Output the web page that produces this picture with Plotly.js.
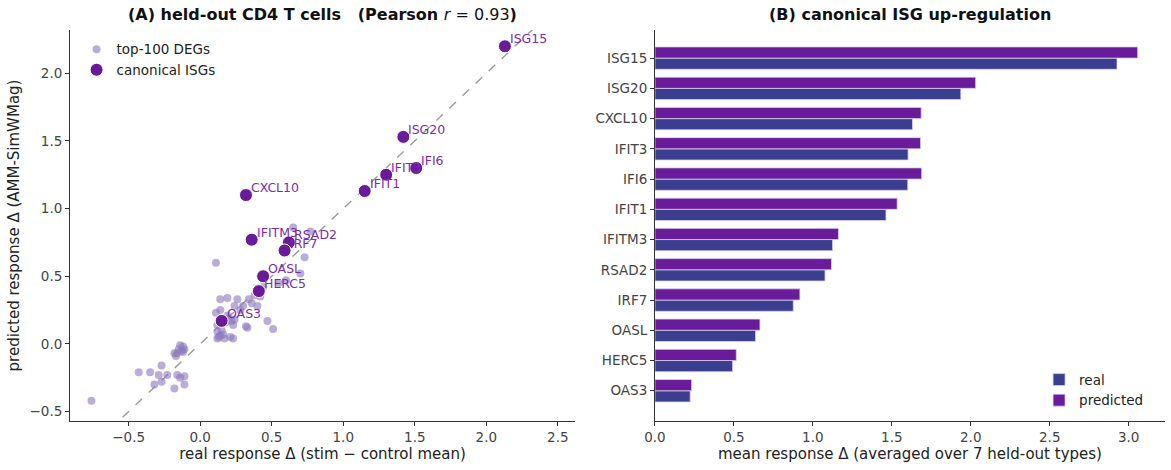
<!DOCTYPE html>
<html>
<head>
<meta charset="utf-8">
<script src="https://cdn.plot.ly/plotly-3.0.1.min.js"></script>
<style>body{margin:0;background:#fff}#chart{width:1171px;height:470px}</style>
</head>
<body>
<div id="chart"></div>
<script>
// ---- Panel A: top-100 DEGs (real vs predicted response delta) ----
const degReal = [-0.76,-0.43,-0.35,-0.29,-0.23,-0.27,-0.32,-0.27,-0.18,-0.16,-0.11,-0.11,-0.14,-0.18,-0.16,-0.14,-0.12,-0.11,-0.13,-0.15,-0.17,-0.12,
  0.11,0.14,0.19,0.26,0.34,0.30,0.24,0.40,0.42,0.11,0.14,0.19,0.22,0.23,0.32,0.33,0.47,0.51,0.12,0.12,0.15,0.12,0.17,0.21,0.23,0.14,0.16,0.18,
  0.65,0.77,0.73,0.70,0.24,0.55,0.60,0.28,0.36,0.20,0.13,0.44,0.38];
const degPred = [-0.42,-0.21,-0.21,-0.23,-0.23,-0.16,-0.30,-0.28,-0.33,-0.23,-0.24,-0.30,-0.25,-0.07,-0.07,-0.01,-0.02,-0.04,-0.05,-0.04,-0.09,-0.06,
  0.60,0.33,0.34,0.33,0.33,0.28,0.28,0.28,0.35,0.23,0.25,0.21,0.17,0.14,0.13,0.12,0.17,0.11,0.14,0.09,0.10,0.04,0.04,0.05,0.04,0.06,0.07,0.16,
  0.86,0.83,0.64,0.52,0.18,0.45,0.47,0.25,0.30,0.19,0.05,0.42,0.36];

// ---- Panel A: canonical ISGs ----
const isgNames = ["ISG15","ISG20","IFIT3","IFI6","IFIT1","CXCL10","IFITM3","RSAD2","IRF7","OASL","HERC5","OAS3"];
const isgReal  = [2.13,1.42,1.30,1.51,1.15,0.32,0.36,0.62,0.59,0.44,0.41,0.15];
const isgPred  = [2.20,1.53,1.25,1.30,1.13,1.10,0.77,0.75,0.69,0.50,0.39,0.17];

// ---- Panel B: mean response (averaged over 7 held-out types) ----
const barGenes     = ["ISG15","ISG20","CXCL10","IFIT3","IFI6","IFIT1","IFITM3","RSAD2","IRF7","OASL","HERC5","OAS3"];
const barReal      = [2.926,1.937,1.631,1.603,1.601,1.463,1.125,1.077,0.876,0.637,0.492,0.223];
const barPredicted = [3.057,2.031,1.686,1.682,1.689,1.534,1.162,1.118,0.918,0.665,0.515,0.232];

const identity = [-1.0, 2.6];

const FONT = "DejaVu Sans, Noto Sans, sans-serif";
const purple = "#6a1b9a";
const labelPurple = "#7b2cb0";
const realBlue = "#3b3d8f";

const traces = [
  {x: identity, y: identity, mode: "lines", type: "scatter", xaxis: "x", yaxis: "y",
   line: {color: "#9a9a9a", width: 1.4, dash: "dash"}, showlegend: false, hoverinfo: "skip"},
  {x: degReal, y: degPred, mode: "markers", type: "scatter", name: "top-100 DEGs", xaxis: "x", yaxis: "y",
   marker: {color: "rgba(140,120,190,0.6)", size: 8, line: {width: 0}}, legend: "legend"},
  {x: isgReal, y: isgPred, mode: "markers", type: "scatter", name: "canonical ISGs", xaxis: "x", yaxis: "y",
   marker: {color: purple, size: 13, line: {color: "#ffffff", width: 1}}, legend: "legend"},
  {y: barGenes, x: barReal, type: "bar", orientation: "h", name: "real", xaxis: "x2", yaxis: "y2",
   marker: {color: realBlue, line: {color: "#d8d0ee", width: 0.8}}, legend: "legend2"},
  {y: barGenes, x: barPredicted, type: "bar", orientation: "h", name: "predicted", xaxis: "x2", yaxis: "y2",
   marker: {color: purple, line: {color: "#d8d0ee", width: 0.8}}, legend: "legend2"}
];

const labelAnns = isgNames.map((g, i) => ({
  text: g, x: isgReal[i], y: isgPred[i], xref: "x", yref: "y",
  xanchor: "left", yanchor: "bottom", xshift: 3, yshift: -2, showarrow: false,
  font: {family: FONT, size: 12.5, color: labelPurple}
}));

const axisCommon = {
  showgrid: false, zeroline: false, showline: true, linecolor: "#333", linewidth: 1,
  ticks: "outside", ticklen: 4, tickcolor: "#333", tickwidth: 1,
  tickfont: {family: FONT, size: 13.5, color: "#444"}
};
const titleFont = {family: FONT, size: 15, color: "#222"};

const layout = {
  width: 1171, height: 470,
  margin: {l: 70, r: 6, t: 30, b: 49},
  paper_bgcolor: "#fff", plot_bgcolor: "#fff",
  font: {family: FONT, color: "#222"},
  barmode: "group", bargap: 0.26, bargroupgap: 0,
  hovermode: false,
  xaxis: Object.assign({}, axisCommon, {domain: [0, 0.4612], range: [-0.91, 2.62],
    tickvals: [-0.5, 0, 0.5, 1, 1.5, 2, 2.5], ticktext: ["−0.5","0.0","0.5","1.0","1.5","2.0","2.5"],
    title: {text: "real response Δ (stim − control mean)", font: titleFont, standoff: 4}}),
  yaxis: Object.assign({}, axisCommon, {range: [-0.57, 2.32], anchor: "x",
    tickvals: [-0.5, 0, 0.5, 1, 1.5, 2], ticktext: ["−0.5","0.0","0.5","1.0","1.5","2.0"],
    title: {text: "predicted response Δ (AMM-SimWMag)", font: titleFont, standoff: 6}}),
  xaxis2: Object.assign({}, axisCommon, {domain: [0.5342, 1], range: [0, 3.23], anchor: "y2",
    tickvals: [0, 0.5, 1, 1.5, 2, 2.5, 3], ticktext: ["0.0","0.5","1.0","1.5","2.0","2.5","3.0"],
    title: {text: "mean response Δ (averaged over 7 held-out types)", font: titleFont, standoff: 4}}),
  yaxis2: Object.assign({}, axisCommon, {anchor: "x2", type: "category",
    categoryorder: "array", categoryarray: barGenes.slice().reverse(), range: [-1.0, 11.93]}),
  legend: {x: 0.006, y: 0.99, xanchor: "left", yanchor: "top", bgcolor: "rgba(0,0,0,0)",
    font: {family: FONT, size: 13.5, color: "#222"}, tracegroupgap: 2, itemsizing: "trace"},
  legend2: {x: 0.885, y: 0.145, xanchor: "left", yanchor: "top", bgcolor: "rgba(0,0,0,0)",
    font: {family: FONT, size: 13.5, color: "#222"}, traceorder: "normal"},
  annotations: labelAnns.concat([
    {text: "<b>(A) held-out CD4 T cells   (Pearson </b><i>r</i> = 0.93<b>)</b>", xref: "paper", yref: "paper",
     x: 0.2306, y: 1.04, xanchor: "center", yanchor: "middle", showarrow: false,
     font: {family: FONT, size: 16, color: "#111"}},
    {text: "<b>(B) canonical ISG up-regulation</b>", xref: "paper", yref: "paper",
     x: 0.767, y: 1.04, xanchor: "center", yanchor: "middle", showarrow: false,
     font: {family: FONT, size: 16, color: "#111"}}
  ])
};

Plotly.newPlot("chart", traces, layout, {staticPlot: true, displayModeBar: false});
</script>
</body>
</html>
